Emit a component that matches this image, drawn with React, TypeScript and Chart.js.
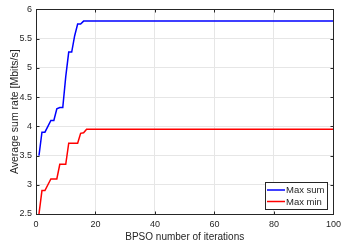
import React, { useEffect, useRef } from "react";
import { Chart, registerables } from "chart.js";

Chart.register(...registerables);

const iterations = [1, 2, 3, 4, 5, 6, 7, 8, 9, 10, 11, 12, 13, 14, 15, 16, 17, 100];
const maxSum = [3.5, 3.9, 3.9, 4.0, 4.1, 4.1, 4.3, 4.32, 4.32, 4.85, 5.27, 5.27, 5.55, 5.75, 5.75, 5.8, 5.8, 5.8];
const maxMin = [2.5, 2.9, 2.9, 3.0, 3.1, 3.1, 3.1, 3.35, 3.35, 3.35, 3.71, 3.71, 3.71, 3.71, 3.88, 3.89, 3.95, 3.95];
const seriesNames = ["Max sum", "Max min"];
const seriesColors = ["#0000ff", "#ff0000"];
const xTitle = "BPSO number of iterations";
const yTitle = "Average sum rate [Mbits/s]";

const FONT = "'Liberation Sans', Arial, sans-serif";
const TXT = "#262626";

const legendPlugin = {
  id: "boxLegend",
  afterDraw(chart: any) {
    const { ctx, chartArea } = chart;
    const w = 62, h = 27;
    const x0 = Math.round(chartArea.right - 6 - w);
    const y0 = Math.round(chartArea.bottom - 5 - h);
    ctx.save();
    ctx.fillStyle = "#ffffff";
    ctx.fillRect(x0, y0, w, h);
    ctx.strokeStyle = TXT;
    ctx.lineWidth = 1;
    ctx.strokeRect(x0 + 0.5, y0 + 0.5, w, h);
    ctx.font = `9.5px ${FONT}`;
    ctx.textBaseline = "middle";
    seriesNames.forEach((name, i) => {
      const yy = y0 + 8 + i * 11.5;
      ctx.strokeStyle = seriesColors[i];
      ctx.lineWidth = 1.5;
      ctx.beginPath();
      ctx.moveTo(x0 + 2, yy);
      ctx.lineTo(x0 + 20, yy);
      ctx.stroke();
      ctx.fillStyle = TXT;
      ctx.fillText(name, x0 + 21, yy + 0.5);
    });
    ctx.restore();
  },
};

const framePlugin = {
  id: "frame",
  afterDatasetsDraw(chart: any) {
    const { ctx, chartArea, scales } = chart;
    const L = Math.round(chartArea.left) + 0.5;
    const T = Math.round(chartArea.top) + 0.5;
    const R = Math.round(chartArea.right) + 0.5;
    const B = Math.round(chartArea.bottom) + 0.5;
    ctx.save();
    ctx.strokeStyle = TXT;
    ctx.lineWidth = 1;
    ctx.strokeRect(L, T, R - L, B - T);
    ctx.beginPath();
    scales.x.ticks.forEach((t: any) => {
      const px = Math.round(scales.x.getPixelForValue(t.value)) + 0.5;
      ctx.moveTo(px, B); ctx.lineTo(px, B - 3);
      ctx.moveTo(px, T); ctx.lineTo(px, T + 3);
    });
    scales.y.ticks.forEach((t: any) => {
      const py = Math.round(scales.y.getPixelForValue(t.value)) + 0.5;
      ctx.moveTo(L, py); ctx.lineTo(L + 3, py);
      ctx.moveTo(R, py); ctx.lineTo(R - 3, py);
    });
    ctx.stroke();
    ctx.restore();
  },
};

export default function App() {
  const ref = useRef<HTMLCanvasElement>(null);
  useEffect(() => {
    if (!ref.current) return;
    const chart = new Chart(ref.current, {
      type: "line",
      data: {
        datasets: [
          {
            label: seriesNames[0],
            data: iterations.map((x, i) => ({ x, y: maxSum[i] })),
            borderColor: seriesColors[0],
            borderWidth: 1.5,
            pointRadius: 0,
            tension: 0,
          },
          {
            label: seriesNames[1],
            data: iterations.map((x, i) => ({ x, y: maxMin[i] })),
            borderColor: seriesColors[1],
            borderWidth: 1.5,
            pointRadius: 0,
            tension: 0,
          },
        ],
      },
      options: {
        animation: false,
        responsive: false,
        maintainAspectRatio: false,
        layout: { padding: { top: 6, right: 10, left: 0, bottom: 0 } },
        plugins: { legend: { display: false }, tooltip: { enabled: false } },
        scales: {
          x: {
            type: "linear",
            min: 0,
            max: 100,
            ticks: { stepSize: 20, color: TXT, font: { size: 9, family: FONT }, padding: 5, maxRotation: 0 },
            grid: { color: "#e6e6e6", drawTicks: false },
            border: { color: TXT },
            title: { display: true, text: xTitle, color: TXT, font: { size: 10, family: FONT }, padding: { top: 2, bottom: 4 } },
            afterFit: (s: any) => { s.height = 33; },
          },
          y: {
            min: 2.5,
            max: 6,
            ticks: {
              stepSize: 0.5,
              color: TXT,
              font: { size: 9, family: FONT },
              padding: 4,
              callback: (v: any) => String(Number(v)),
            },
            grid: { color: "#e6e6e6", drawTicks: false },
            border: { color: TXT },
            title: { display: true, text: yTitle, color: TXT, font: { size: 10.5, family: FONT }, padding: { top: 9, bottom: 0 } },
            afterFit: (s: any) => { s.width = 36; },
          },
        },
      },
      plugins: [framePlugin, legendPlugin],
    });
    return () => chart.destroy();
  }, []);
  return (
    <div style={{ position: "absolute", left: 0, top: 0, width: 346, height: 247, background: "#fff" }}>
      <canvas ref={ref} width={346} height={247} style={{ width: 346, height: 247 }} />
    </div>
  );
}
